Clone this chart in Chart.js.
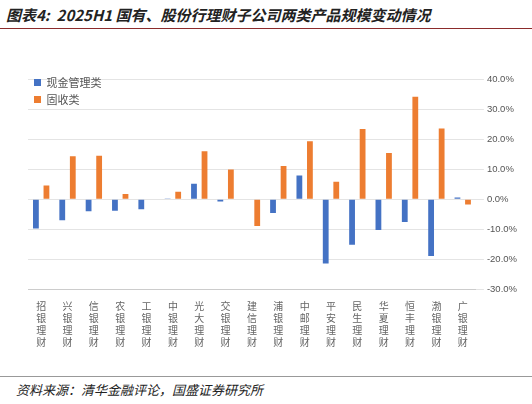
<!DOCTYPE html><html><head><meta charset="utf-8"><script src="https://cdn.jsdelivr.net/npm/chart.js@4"></script>
<style>body{margin:0;width:532px;height:404px;background:#fff;font-family:"Noto Sans CJK SC";position:relative;overflow:hidden}
#t{position:absolute;left:6px;top:4px;font-size:15px;font-style:italic;font-weight:bold;color:#222}
#l1{position:absolute;left:0;top:28px;width:532px;border-top:1.5px solid #8b2b2b}
#l2{position:absolute;left:0;top:376px;width:532px;border-top:1px solid #999}
#s{position:absolute;left:16px;top:380px;font-size:13px;font-style:italic;color:#222}
#c{position:absolute;left:28px;top:71px;width:492px;height:280px}</style></head><body>
<div id="t">图表4:&nbsp; 2025H1 国有、股份行理财子公司两类产品规模变动情况</div><div id="l1"></div>
<div id="c"><canvas id="cv"></canvas></div><div id="l2"></div>
<div id="s">资料来源：清华金融评论，国盛证券研究所</div>
<script>
const categories=["招银理财","兴银理财","信银理财","农银理财","工银理财","中银理财","光大理财","交银理财","建信理财","浦银理财","中邮理财","平安理财","民生理财","华夏理财","恒丰理财","渤银理财","广银理财"];
const cashMgmt=[-9.8,-7.0,-4.0,-3.8,-3.3,0.3,5.2,-0.7,0,-4.6,8.0,-21.5,-15.2,-10.3,-7.6,-19.0,0.6];
const fixedIncome=[4.6,14.4,14.6,1.8,0,2.5,16.1,10.0,-8.9,11.1,19.4,5.9,23.5,15.5,34.3,23.7,-1.7];
new Chart(document.getElementById('cv'),{type:'bar',data:{labels:categories.map(s=>s.split('')),datasets:[
{label:'现金管理类',data:cashMgmt,backgroundColor:'#4472c4',barPercentage:0.55,categoryPercentage:0.8},
{label:'固收类',data:fixedIncome,backgroundColor:'#ed7d31',barPercentage:0.55,categoryPercentage:0.8}]},
options:{responsive:true,maintainAspectRatio:false,animation:false,
plugins:{legend:{position:'chartArea',align:'start',labels:{boxWidth:7,boxHeight:7,font:{size:11,family:'Noto Sans CJK SC'},color:'#555',padding:6}},
tooltip:{enabled:false}},
scales:{x:{grid:{display:false},border:{color:'#ccc'},ticks:{font:{size:10,family:'Noto Sans CJK SC'},color:'#666',maxRotation:0,autoSkip:false,padding:3}},
y:{position:'right',min:-30,max:40,grid:{color:'#e4e4e4'},border:{display:false},ticks:{stepSize:10,callback:v=>v.toFixed(1)+'%',font:{size:9.5},color:'#555'}}}}});
</script></body></html>
